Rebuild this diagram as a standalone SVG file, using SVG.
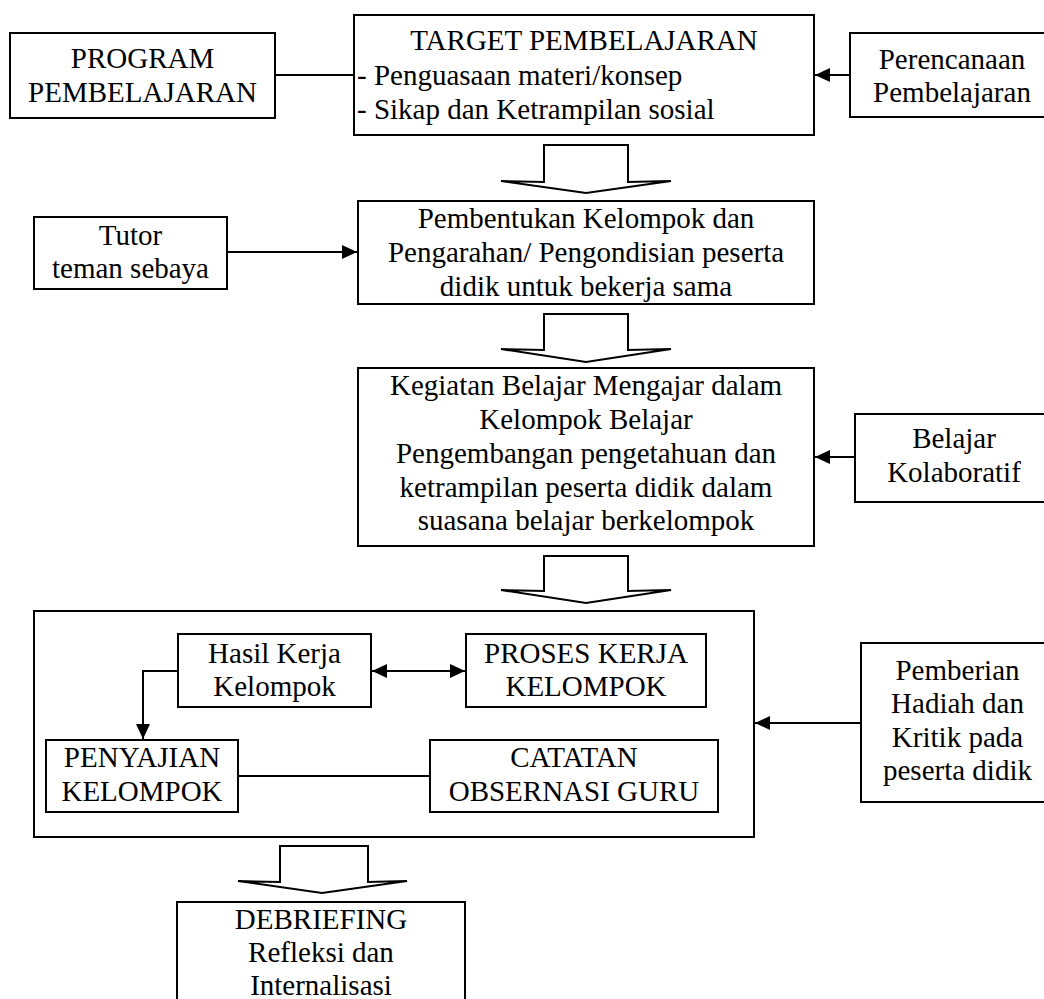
<svg xmlns="http://www.w3.org/2000/svg" width="1044" height="999" viewBox="0 0 1044 999">
<style>
.box{fill:#fff;stroke:#000;stroke-width:2}
.ln{fill:none;stroke:#000;stroke-width:2}
.blk{fill:#fff;stroke:#000;stroke-width:2;stroke-linejoin:miter}
text{font-family:"Liberation Serif","Times New Roman",serif;font-size:29px;fill:#000}
.c{text-anchor:middle}
</style>
<defs>
<marker id="ah" markerUnits="userSpaceOnUse" markerWidth="16" markerHeight="14" refX="15" refY="7" orient="auto-start-reverse">
<path d="M0,0 L15,7 L0,14 Z" fill="#000"/>
</marker>
</defs>
<rect width="1044" height="999" fill="#fff"/>

<g id="connectors">
<line class="ln" x1="275" y1="75" x2="354" y2="75"/>
<line class="ln" x1="849" y1="75" x2="815" y2="75" marker-end="url(#ah)"/>
<line class="ln" x1="227" y1="252" x2="357" y2="252" marker-end="url(#ah)"/>
<line class="ln" x1="855" y1="457" x2="815" y2="457" marker-end="url(#ah)"/>
<line class="ln" x1="861" y1="723" x2="755" y2="723" marker-end="url(#ah)"/>
<line class="ln" x1="372" y1="671" x2="465" y2="671" marker-start="url(#ah)" marker-end="url(#ah)"/>
<polyline class="ln" points="178,671 143,671 143,739" marker-end="url(#ah)"/>
<line class="ln" x1="238" y1="776" x2="430" y2="776"/>
<polygon class="blk" points="544,145 628,145 628,182 671,181 586,193 501,181 544,182"/>
<polygon class="blk" points="544,314 628,314 628,350 671,349 586,362 501,349 544,350"/>
<polygon class="blk" points="544,556 628,556 628,591 671,590 586,603 501,590 544,591"/>
<polygon class="blk" points="280,846 368,846 368,882 407,881 322,893 238,881 280,882"/>
</g>

<g id="program">
<rect class="box" x="10" y="33" width="265" height="85"/>
<text class="c" x="142.5" y="68">PROGRAM</text>
<text class="c" x="142.5" y="102">PEMBELAJARAN</text>
</g>

<g id="target">
<rect class="box" x="354" y="15" width="460" height="120"/>
<text class="c" x="584" y="50">TARGET PEMBELAJARAN</text>
<text x="357" y="85">- Penguasaan materi/konsep</text>
<text x="357" y="119">- Sikap dan Ketrampilan sosial</text>
</g>

<g id="perencanaan">
<rect class="box" x="850" y="33" width="203" height="84"/>
<text class="c" x="952" y="69">Perencanaan</text>
<text class="c" x="952" y="102">Pembelajaran</text>
</g>

<g id="tutor">
<rect class="box" x="34" y="217" width="193" height="72"/>
<text class="c" x="130.5" y="245">Tutor</text>
<text class="c" x="130.5" y="278">teman sebaya</text>
</g>

<g id="pembentukan">
<rect class="box" x="358" y="201" width="456" height="103"/>
<text class="c" x="586" y="228">Pembentukan Kelompok dan</text>
<text class="c" x="586" y="262">Pengarahan/ Pengondisian peserta</text>
<text class="c" x="586" y="296">didik untuk bekerja sama</text>
</g>

<g id="kegiatan">
<rect class="box" x="358" y="368" width="456" height="178"/>
<text class="c" x="586" y="395">Kegiatan Belajar Mengajar dalam</text>
<text class="c" x="586" y="429">Kelompok Belajar</text>
<text class="c" x="586" y="463">Pengembangan pengetahuan dan</text>
<text class="c" x="586" y="497">ketrampilan peserta didik dalam</text>
<text class="c" x="586" y="530">suasana belajar berkelompok</text>
</g>

<g id="belajar-kolaboratif">
<rect class="box" x="855" y="414" width="198" height="88"/>
<text class="c" x="954" y="448">Belajar</text>
<text class="c" x="954" y="482">Kolaboratif</text>
</g>

<g id="container">
<rect class="box" x="34" y="611" width="720" height="226" fill="none" style="fill:none"/>
</g>

<g id="hasil">
<rect class="box" x="178" y="634" width="193" height="73"/>
<text class="c" x="274.5" y="663">Hasil Kerja</text>
<text class="c" x="274.5" y="696">Kelompok</text>
</g>

<g id="proses">
<rect class="box" x="466" y="634" width="240" height="73"/>
<text class="c" x="586" y="663">PROSES KERJA</text>
<text class="c" x="586" y="696">KELOMPOK</text>
</g>

<g id="penyajian">
<rect class="box" x="46" y="740" width="192" height="72"/>
<text class="c" x="142" y="767">PENYAJIAN</text>
<text class="c" x="142" y="801">KELOMPOK</text>
</g>

<g id="catatan">
<rect class="box" x="430" y="740" width="288" height="72"/>
<text class="c" x="574" y="767">CATATAN</text>
<text class="c" x="574" y="801">OBSERNASI GURU</text>
</g>

<g id="pemberian">
<rect class="box" x="861" y="643" width="193" height="159"/>
<text class="c" x="957.5" y="680">Pemberian</text>
<text class="c" x="957.5" y="713">Hadiah dan</text>
<text class="c" x="957.5" y="747">Kritik pada</text>
<text class="c" x="957.5" y="780">peserta didik</text>
</g>

<g id="debriefing">
<rect class="box" x="177" y="902" width="288" height="110"/>
<text class="c" x="321" y="929">DEBRIEFING</text>
<text class="c" x="321" y="962">Refleksi dan</text>
<text class="c" x="321" y="995">Internalisasi</text>
</g>
</svg>
